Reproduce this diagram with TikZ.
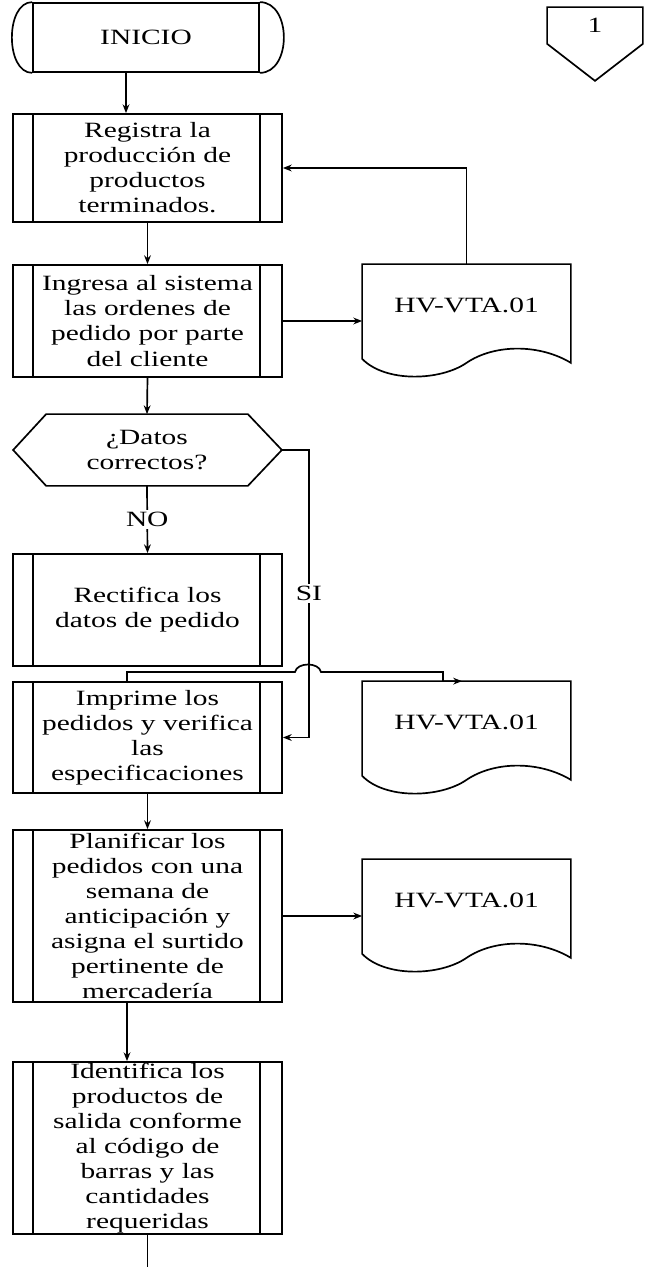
\documentclass[tikz,border=0pt]{standalone}
\usepackage{fontspec}
\setmainfont[FakeStretch=1.35]{Liberation Serif}
\usetikzlibrary{arrows.meta,calc}

\begin{document}
\begin{tikzpicture}[x=0.025cm, y=-0.025cm, line width=1.2pt,
  every node/.style={font=\fontsize{15.5}{17.8}\selectfont, inner sep=0pt, align=center},
  proc/.style={draw, minimum width=6.725cm},
  doc/.style={minimum width=5.175cm, minimum height=2cm},
  lbl/.style={fill=white, inner sep=1.5pt},
  arr/.style={-{Stealth[length=2.2mm, width=1.7mm]}}]
  \useasboundingbox (0,0) rectangle (646,1267);

  % inicio y conector de pagina
  \node[draw, minimum width=5.65cm, minimum height=1.725cm] (ini) at (146,37.5) {INICIO};
  \draw (ini.north west) .. controls ($(ini.north west)+(-27,0)$) and ($(ini.south west)+(-27,0)$) .. (ini.south west);
  \draw (ini.north east) .. controls ($(ini.north east)+(32,0)$) and ($(ini.south east)+(32,0)$) .. (ini.south east);
  \node[minimum width=2.35cm, minimum height=0.875cm] (off) at (595,25.5) {1};
  \draw (off.north west) -- (off.north east) -- (off.south east) -- ($(off.south)+(0,37)$) -- (off.south west) -- cycle;

  % procesos
  \node[proc, minimum height=2.7cm] (reg) at (147.5,168) {Registra la\\producción de\\productos\\terminados.};
  \node[proc, minimum height=2.8cm] (ing) at (147.5,321) {Ingresa al sistema\\las ordenes de\\pedido por parte\\del cliente};
  \node[minimum width=5cm, minimum height=1.75cm] (dat) at (147,450) {¿Datos\\correctos?};
  \draw (dat.north west) -- (dat.north east) -- ($(dat.east)+(34,0)$) coordinate (datr) -- (dat.south east)
    -- (dat.south west) -- ($(dat.west)+(-33,0)$) -- cycle;
  \node[proc, minimum height=2.8cm] (rect) at (147.5,610) {Rectifica los\\datos de pedido};
  \node[proc, minimum height=2.775cm] (imp) at (147.5,737.5) {Imprime los\\pedidos y verifica\\las\\especificaciones};
  \node[proc, minimum height=4.3cm] (plan) at (147.5,916) {Planificar los\\pedidos con una\\semana de\\anticipación y\\asigna el surtido\\pertinente de\\mercadería};
  \node[proc, minimum height=4.3cm] (ident) at (147.5,1148) {Identifica los\\productos de\\salida conforme\\al código de\\barras y las\\cantidades\\requeridas};
  \foreach \b in {reg,ing,rect,imp,plan,ident} {
    \draw ($(\b.north west)+(21,0)$) -- ($(\b.south west)+(21,0)$);
    \draw ($(\b.north east)+(-23,0)$) -- ($(\b.south east)+(-23,0)$);
  }

  % documentos
  \node[doc] (d1) at (466.5,305) {HV-VTA.01};
  \node[doc] (d2) at (466.5,722) {HV-VTA.01};
  \node[doc] (d3) at (466.5,900) {HV-VTA.01};
  \foreach \d in {d1,d2,d3}
    \draw (\d.north west) -- (\d.north east) -- ($(\d.south east)+(0,17)$)
      .. controls ($(\d.south)+(73,-2)$) and ($(\d.south)+(28,-2)$) .. ($(\d.south)+(0,17)$)
      .. controls ($(\d.south)+(-26,35)$) and ($(\d.south)+(-81,37)$) .. ($(\d.south west)+(0,13)$) -- cycle;

  % conectores
  \draw[arr] (126,0 |- ini.south) -- (126,0 |- reg.north);
  \draw[arr] (reg.south) -- (ing.north);
  \draw[arr] (ing.east) -- (ing.east -| d1.west);
  \draw[arr] (d1.north) |- (reg.east);
  \draw[arr] (ing.south) -- (dat.north);
  \draw[arr] (dat.south) -- node[lbl] {NO} (rect.north);
  \draw[arr] (datr) -- ++(27,0) |- node[lbl, pos=0.25] {SI} (imp.east);
  \draw[arr] (127,0 |- imp.north) -- (127,672) -- (295,672) .. controls (297,662) and (319,662) .. (321,672)
    -- (443,672) -- (443,0 |- d2.north) -- (462,0 |- d2.north);
  \draw[arr] (imp.south) -- (plan.north);
  \draw[arr] (plan.east) -- (plan.east -| d3.west);
  \draw[arr] (127,0 |- plan.south) -- (127,0 |- ident.north);
  \coordinate (fin) at (147.5,1267);
  \draw (ident.south) -- (fin);
\end{tikzpicture}
\end{document}
